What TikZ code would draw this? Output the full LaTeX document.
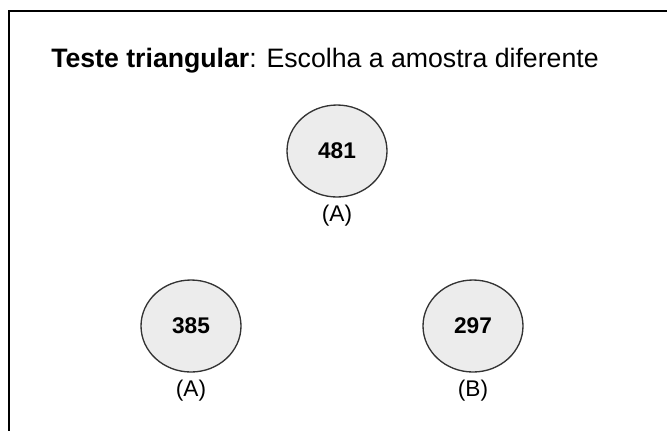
\documentclass[tikz,border=0pt]{standalone}
\usepackage{fontspec}
\setmainfont{Liberation Sans}
\usetikzlibrary{positioning,shapes.geometric}

\begin{document}
\begin{tikzpicture}[
    x=0.75pt, y=-0.75pt,
    sample/.style={ellipse, draw=black!80, line width=1pt, fill=gray!15, minimum width=75pt, minimum height=69pt, inner sep=0pt, font=\fontsize{17}{20}\selectfont\bfseries},
    tag/.style={inner sep=0pt, font=\fontsize{17}{20}\selectfont},
    title/.style={anchor=base west, inner sep=0pt, font=\fontsize{20}{24}\selectfont}
]
\useasboundingbox (0,0) rectangle (667,430);

% Frame (open at right and bottom)
\draw[line width=1.5pt] (9,440) -- (9,11) -- (680,11);

% Title
\node[title] (title) at (51,67) {\textbf{Teste triangular}: Escolha a amostra diferente};

% Samples
\node[sample] (s481) at (337,151) {481};
\node[sample] (s385) at (191,326) {385};
\node[sample] (s297) at (473,326) {297};

% Sample labels
\node[tag, below=5pt of s481] (t481) {(A)};
\node[tag, below=5pt of s385] (t385) {(A)};
\node[tag, below=5pt of s297] (t297) {(B)};

\end{tikzpicture}
\end{document}
